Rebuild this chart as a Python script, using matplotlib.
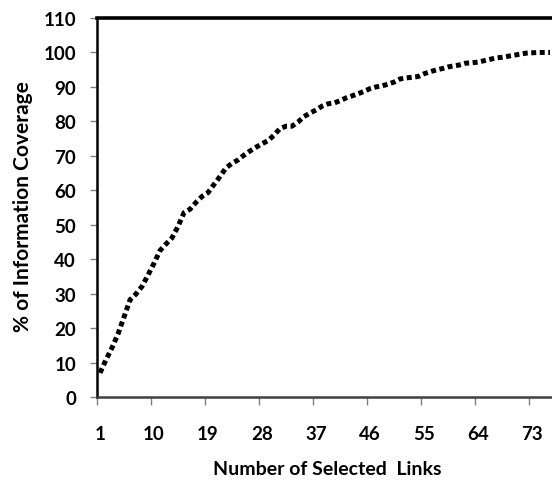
import matplotlib
matplotlib.use("Agg")
import matplotlib.pyplot as plt

links = list(range(1, 77))
coverage = [7.0, 10.8, 14.3, 18.3, 23.2, 28.2, 29.9, 32.1, 35.4, 38.8,
            42.5, 44.4, 46.2, 49.5, 53.5, 54.5, 56.5, 58.2, 59.3, 61.7,
            64.0, 66.5, 67.8, 68.8, 70.2, 71.4, 72.5, 73.5, 74.4, 76.0,
            77.9, 78.6, 78.6, 79.8, 81.4, 82.4, 83.3, 84.4, 85.1, 85.3,
            86.0, 86.8, 87.4, 88.0, 88.7, 89.5, 90.0, 90.3, 90.8, 91.4,
            92.3, 92.6, 92.8, 93.0, 93.8, 94.4, 94.9, 95.3, 95.8, 96.1,
            96.4, 96.9, 97.0, 97.2, 97.6, 98.0, 98.4, 98.6, 98.9, 99.2,
            99.5, 99.8, 99.9, 100.0, 100.0, 100.0]
xtick_labels = [1, 10, 19, 28, 37, 46, 55, 64, 73]
yticks = list(range(0, 111, 10))

plt.rcParams['font.family'] = ['Lato', 'DejaVu Sans']

W, H = 552, 481
fig = plt.figure(figsize=(W / 100, H / 100), dpi=100)
ax = fig.add_axes([97 / W, (H - 398) / H, 456 / W, 379 / H])

ax.plot(links, coverage, color='black', lw=3.6, dashes=(1.0, 0.7),
        dash_capstyle='butt', solid_capstyle='butt')

ax.set_xlim(0.5, len(links) + 0.5)
ax.set_ylim(0, 110)
ax.set_yticks(yticks)
ax.set_yticklabels([str(v) for v in yticks], fontsize=13.5, fontweight='bold')
ax.set_xticks([v - 0.5 for v in xtick_labels])
ax.set_xticklabels([])
for v in xtick_labels:
    ax.text(v, -10.6, str(v), ha='center', va='center', fontsize=13.5,
            fontweight='bold')

ax.tick_params(axis='y', direction='out', length=5, width=1, color='#808080', pad=10)
ax.tick_params(axis='x', direction='out', length=6, width=1, color='#808080')

ax.spines['top'].set_linewidth(2.6)
ax.spines['top'].set_color('black')
ax.spines['left'].set_linewidth(1.8)
ax.spines['left'].set_color('black')
ax.spines['bottom'].set_linewidth(1.8)
ax.spines['bottom'].set_color('#404040')
ax.spines['right'].set_visible(False)

fig.text(327 / W, 1 - 470 / H, 'Number of Selected  Links', ha='center', va='center',
         fontsize=14, fontweight='bold')
fig.text(23 / W, 1 - 207 / H, '% of Information Coverage', ha='center', va='center',
         rotation=90, fontsize=15, fontweight='bold')

fig.savefig('out.png', dpi=100)
